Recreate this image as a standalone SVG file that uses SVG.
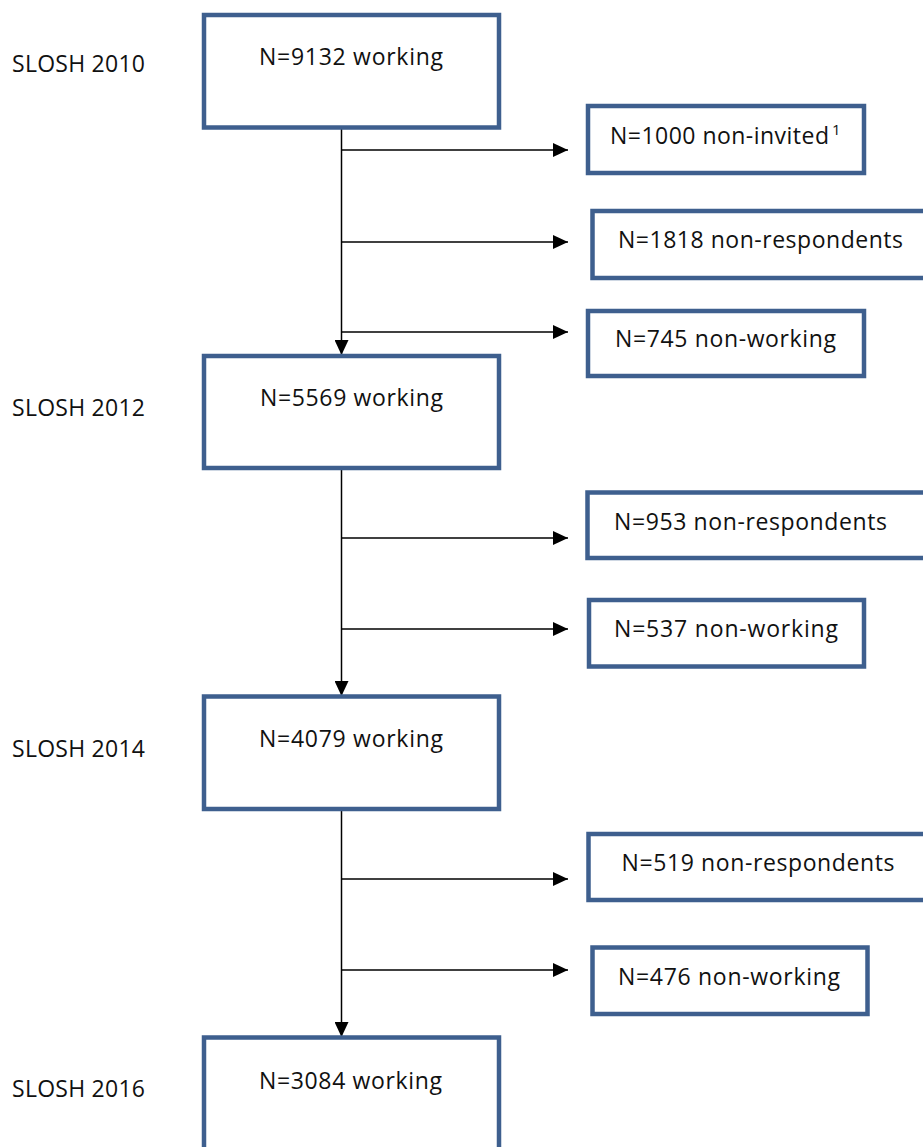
<svg xmlns="http://www.w3.org/2000/svg" width="923" height="1147" viewBox="0 0 923 1147">
<style>
.box{fill:#fff;stroke:#3e5f8e;stroke-width:4.5}
.t{font-family:"Open Sans","Liberation Sans",sans-serif;font-size:23px;fill:#111}
.sup{font-family:"Open Sans","Liberation Sans",sans-serif;font-size:15px;fill:#111}
.c{stroke:#000;stroke-width:1.5;fill:none}
</style>
<defs>
<marker id="ah" markerUnits="userSpaceOnUse" markerWidth="15" markerHeight="14" refX="15" refY="7" orient="auto" viewBox="0 0 15 14">
<path d="M0,0 L15,7 L0,14 z" fill="#000"/>
</marker>
</defs>
<rect width="923" height="1147" fill="#fff"/>
<g id="labels">
<text class="t" x="12" y="72" textLength="133">SLOSH 2010</text>
<text class="t" x="12" y="416" textLength="133">SLOSH 2012</text>
<text class="t" x="12" y="757" textLength="133">SLOSH 2014</text>
<text class="t" x="12" y="1097" textLength="133">SLOSH 2016</text>
</g>
<g id="connectors">
<line class="c" x1="341.5" y1="128" x2="341.5" y2="355" marker-end="url(#ah)"/>
<line class="c" x1="341.5" y1="150" x2="568" y2="150" marker-end="url(#ah)"/>
<line class="c" x1="341.5" y1="242" x2="568" y2="242" marker-end="url(#ah)"/>
<line class="c" x1="341.5" y1="332" x2="568" y2="332" marker-end="url(#ah)"/>
<line class="c" x1="341.5" y1="468" x2="341.5" y2="696" marker-end="url(#ah)"/>
<line class="c" x1="341.5" y1="538" x2="568" y2="538" marker-end="url(#ah)"/>
<line class="c" x1="341.5" y1="629" x2="568" y2="629" marker-end="url(#ah)"/>
<line class="c" x1="341.5" y1="809" x2="341.5" y2="1037" marker-end="url(#ah)"/>
<line class="c" x1="341.5" y1="879" x2="568" y2="879" marker-end="url(#ah)"/>
<line class="c" x1="341.5" y1="970" x2="568" y2="970" marker-end="url(#ah)"/>
</g>
<g id="n2010">
<rect class="box" x="204" y="15" width="295" height="112.5"/>
<text class="t" x="259" y="65" textLength="184">N=9132 working</text>
</g>
<g id="nonInvited">
<rect class="box" x="588" y="106" width="276" height="67"/>
<text class="t" x="610" y="144" textLength="219">N=1000 non-invited</text>
<text class="sup" x="832" y="135">1</text>
</g>
<g id="nonResp2010">
<rect class="box" x="592.5" y="211" width="340" height="67"/>
<text class="t" x="618" y="248" textLength="285">N=1818 non-respondents</text>
</g>
<g id="nonWork2010">
<rect class="box" x="588" y="311" width="276" height="65"/>
<text class="t" x="615" y="347" textLength="221">N=745 non-working</text>
</g>
<g id="n2012">
<rect class="box" x="204" y="356" width="295" height="112"/>
<text class="t" x="260" y="406" textLength="183">N=5569 working</text>
</g>
<g id="nonResp2012">
<rect class="box" x="587.5" y="492.5" width="345" height="65.5"/>
<text class="t" x="614" y="530" textLength="273">N=953 non-respondents</text>
</g>
<g id="nonWork2012">
<rect class="box" x="589" y="600" width="275" height="66.5"/>
<text class="t" x="614" y="637" textLength="224">N=537 non-working</text>
</g>
<g id="n2014">
<rect class="box" x="204" y="696.5" width="295" height="112.5"/>
<text class="t" x="259" y="747" textLength="184">N=4079 working</text>
</g>
<g id="nonResp2014">
<rect class="box" x="588.5" y="834" width="345" height="66"/>
<text class="t" x="621.5" y="871" textLength="273">N=519 non-respondents</text>
</g>
<g id="nonWork2014">
<rect class="box" x="592.5" y="947.5" width="275" height="66.5"/>
<text class="t" x="618" y="985" textLength="222">N=476 non-working</text>
</g>
<g id="n2016">
<rect class="box" x="204" y="1037.5" width="295" height="150"/>
<text class="t" x="259" y="1089" textLength="183">N=3084 working</text>
</g>
</svg>
